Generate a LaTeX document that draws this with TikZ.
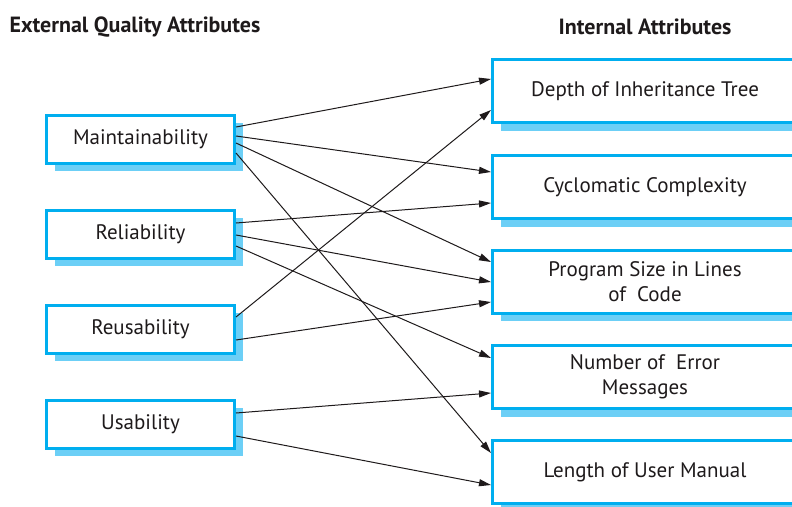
\documentclass[tikz,border=0pt]{standalone}
\usepackage{fontspec}
\setmainfont{PT Sans}
\usetikzlibrary{arrows.meta,shadows}
\definecolor{boxblue}{RGB}{0,174,239}
\definecolor{shadeblue}{RGB}{108,207,246}
\definecolor{inkgray}{RGB}{30,26,27}
\tikzset{
  attr/.style={draw=boxblue,line width=3pt,fill=white,text=inkgray,align=center,
    font=\fontsize{21}{25}\selectfont,
    general shadow={fill=shadeblue,shadow xshift=8pt,shadow yshift=-8pt}},
  ext/.style={attr,minimum width=188pt,minimum height=48pt},
  int/.style={attr,minimum width=305pt,minimum height=63pt},
  head/.style={text=inkgray,font=\fontsize{22}{26}\selectfont\bfseries},
  link/.style={draw=inkgray,line width=1pt,-{Triangle[length=12pt,width=7pt]}}
}
\begin{document}
\begin{tikzpicture}[x=1pt,y=-1pt]
    \useasboundingbox (0,0) rectangle (792,506);
    \node[head,anchor=west] (exthead) at (6,27) {External Quality Attributes};
    \node[head] (inthead) at (645,27) {Internal Attributes};
    % external attributes
    \node[ext] (maint) at (140.5,139) {Maintainability};
    \node[ext] (relia) at (140.5,234) {Reliability};
    \node[ext] (reuse) at (140.5,329) {Reusability};
    \node[ext] (usab)  at (140.5,424) {Usability};
    % internal attributes
    \node[int] (depth)  at (645,91)  {Depth of Inheritance Tree};
    \node[int] (cyclo)  at (645,187) {Cyclomatic Complexity};
    \node[int] (size)   at (645,281.5) {Program Size in Lines\\of~ Code};
    \node[int] (errmsg) at (645,377) {Number of~ Error\\Messages};
    \node[int] (manual) at (645,472) {Length of User Manual};
    % links
    \foreach \a/\ya/\b/\yb in {maint/127/depth/79, maint/136/cyclo/172,
        maint/143/size/262, maint/153/manual/453, relia/223/cyclo/203,
        relia/235/size/282, relia/246/errmsg/358, reuse/317/depth/110,
        reuse/340/size/302, usab/413/errmsg/393, usab/436/manual/485}
      \draw[link] (\a.east |- 0,\ya) -- (\b.west |- 0,\yb);
\end{tikzpicture}
\end{document}
